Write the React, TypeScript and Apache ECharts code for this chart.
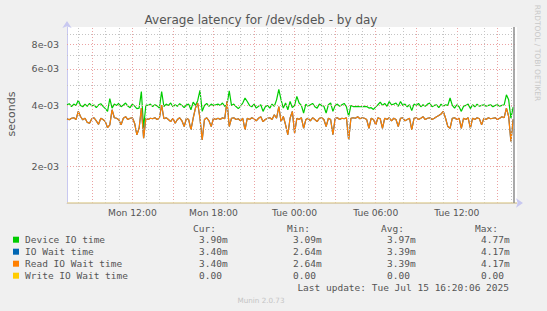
import React, { useEffect, useRef } from "react";
import * as echarts from "echarts";

// ---- data (values in milliseconds, 10-minute samples) ----
const startHour = 7 + 10 / 60; // Mon 07:10, hours since Mon 00:00
const stepHours = 10 / 60;

const deviceIoMs = [
  4.01, 4.06, 3.93, 4.04, 3.98, 4.22,
  3.98, 3.92, 4.04, 3.94, 4.07, 3.96, 4.0,
  3.88, 4.01, 4.06, 3.94, 3.84, 3.72,
  4.3, 3.86, 4.04,
  3.98, 4.08, 3.92, 4.0, 4.09, 3.95, 3.88, 4.04, 3.95,
  3.84, 3.86, 4.66, 3.09, 4.0,
  3.98, 4.04, 3.93, 4.01, 3.96, 3.86,
  4.66, 3.93,
  4.04, 3.98, 4.09, 3.92, 4.01, 3.94, 4.06, 3.98, 3.88, 4.01, 4.04,
  3.79, 4.13, 3.98, 4.2, 4.72, 3.72, 3.98,
  4.07, 3.94, 4.04, 3.98, 4.01,
  4.04, 3.98, 4.09, 3.94, 4.01,
  4.7,
  3.98, 4.04, 3.93, 3.84, 3.94,
  4.09, 4.33, 4.16,
  3.98, 3.92, 4.04, 3.86, 3.94, 4.01, 3.72, 3.92, 3.98, 3.86, 4.04, 3.94,
  4.24, 4.77, 4.24, 3.86,
  4.09, 3.79, 4.16, 3.88, 3.98,
  4.41, 4.09,
  3.98, 3.65, 4.04, 3.94, 4.01, 4.07, 3.92, 3.86, 4.04, 3.98, 3.94, 3.65,
  4.01, 4.09, 3.72, 3.98, 4.04, 3.94, 4.01, 4.07, 3.92,
  3.51, 3.98,
  3.93, 3.93, 3.94, 3.92, 3.93, 3.94, 3.93,
  3.86, 3.88, 3.8, 3.92, 4.01,
  4.13, 3.98, 4.07, 3.94, 4.16, 4.01, 4.04,
  4.09, 3.94, 4.16, 3.98, 4.04, 3.92, 4.01,
  3.75, 4.04,
  3.98, 4.07, 3.92, 4.01, 3.94, 4.04, 4.09, 3.92, 3.98, 4.01, 3.88, 4.04, 3.94, 4.01, 3.98,
  4.33, 3.98,
  3.86, 4.01, 3.92, 3.72, 3.94,
  3.98, 4.04, 3.84, 4.01, 3.92, 4.04, 3.94, 3.98, 4.01, 3.94, 3.98, 4.01, 3.92, 3.98, 4.01, 3.94, 3.98, 4.01,
  4.49, 4.24, 3.44, 3.9,
];

const readWaitMs = [
  3.42, 3.38, 3.44, 3.46, 3.39, 3.72, 3.51,
  3.38, 3.44, 3.28, 3.25, 3.42, 3.46, 3.34, 3.21,
  3.44, 3.39, 3.31,
  3.09, 3.19, 3.79, 3.46,
  3.44, 3.38, 3.19, 3.44, 3.5, 3.39, 3.44, 3.46,
  3.25, 2.85, 3.07, 3.86, 2.74, 3.44,
  3.39, 3.44, 3.42, 3.46, 3.39, 3.44,
  4.0, 3.42,
  3.46, 3.39, 3.31, 3.44, 3.25, 3.39, 3.46, 3.34, 3.13, 3.44, 3.39,
  3.01, 3.44, 3.86, 4.09, 3.44, 2.69, 3.39,
  3.46, 3.34, 3.13, 3.44, 3.39,
  3.44, 3.39, 3.46, 3.42,
  4.17, 3.13,
  3.44, 3.46, 3.39, 3.42, 3.34,
  3.44, 3.01, 3.44,
  3.39, 3.46, 3.42, 3.34, 3.44, 3.5, 3.31, 3.39, 3.44, 3.46, 3.39,
  3.58, 3.44, 3.93, 3.31, 3.51,
  3.19, 2.85, 3.44, 3.72, 2.9,
  3.44, 3.39,
  3.46, 3.07, 3.39, 3.44, 3.34, 3.46, 3.39, 3.31, 3.44, 3.46, 3.39, 3.13,
  3.44, 3.39, 2.85, 3.44, 3.46, 3.39, 3.44, 3.42, 3.46,
  2.69, 3.44,
  3.46, 3.44, 3.5, 3.42, 3.46, 3.44, 3.39,
  3.07, 3.44, 3.39, 3.19, 3.46,
  3.42, 3.07, 3.44, 3.39, 3.46, 3.34, 3.44,
  3.39, 3.13, 3.44, 3.46, 3.34, 3.39, 3.44,
  3.01, 3.44,
  3.46, 3.39, 3.44, 3.5, 3.39, 3.44, 3.46, 3.39, 3.44, 3.5, 3.55, 3.61, 3.72, 3.44, 3.13,
  3.07, 3.44,
  3.46, 3.39, 3.44, 3.07, 3.44,
  3.39, 3.46, 3.07, 3.44, 3.39, 3.46, 3.42, 3.19, 3.44, 3.39, 3.46, 3.42, 3.44, 3.46, 3.39, 3.44, 3.5, 3.46,
  3.86, 3.51, 2.64, 3.4,
];

// IO Wait time is identical to Read IO Wait time (same Cur/Min/Avg/Max)
const ioWaitMs = readWaitMs;

const nowHour = 40.23;

// ---- axes / ticks (y is plotted as log10 of seconds) ----
const yMin = 1.312e-3;
const yMax = 9.71e-3;
const yMajorTicks = [2e-3, 4e-3, 6e-3, 8e-3];
const yMajorLabels = ["2e-03", "4e-03", "6e-03", "8e-03"];
const yMinorTicks = [3e-3, 5e-3, 7e-3, 9e-3];
const xMin = startHour;
const xMax = 40.45;
const xLabelHours = [12, 18, 24, 30, 36];
const xLabels = ["Mon 12:00", "Mon 18:00", "Tue 00:00", "Tue 06:00", "Tue 12:00"];

// ---- legend table ----
const legendNames = ["Device IO time", "IO Wait time", "Read IO Wait time", "Write IO Wait time"];
const legendColors = ["#00cc00", "#0066b3", "#ff8000", "#ffcc00"];
const statHeaders = ["Cur:", "Min:", "Avg:", "Max:"];
const statRows = [
  ["3.90m", "3.09m", "3.97m", "4.77m"],
  ["3.40m", "2.64m", "3.39m", "4.17m"],
  ["3.40m", "2.64m", "3.39m", "4.17m"],
  ["0.00", "0.00", "0.00", "0.00"],
];

const lg = (v: number) => Math.log10(v);
const toPoints = (arr: number[]) => arr.map((v, i) => [startHour + i * stepHours, lg(v * 1e-3)]);

export default function App() {
  const ref = useRef<HTMLDivElement>(null);
  useEffect(() => {
    if (!ref.current) return;
    const chart = echarts.init(ref.current, undefined, { renderer: "svg" });

    const majorRed = "#eba3a3";
    const minorGrey = "#c4c4c4";
    const gridLines: any[] = [];
    for (let h = Math.ceil(xMin); h <= Math.floor(xMax); h++) {
      gridLines.push({
        xAxis: h,
        lineStyle: { color: h % 3 === 0 ? majorRed : minorGrey, type: [1, 2], width: 1 },
        label: { show: false },
      });
    }
    yMinorTicks.forEach((v) =>
      gridLines.push({ yAxis: lg(v), lineStyle: { color: minorGrey, type: [1, 2], width: 1 }, label: { show: false } })
    );
    yMajorTicks.forEach((v, i) =>
      gridLines.push({
        yAxis: lg(v),
        lineStyle: { color: majorRed, type: [1, 2], width: 1 },
        label: {
          show: true,
          position: "start",
          distance: 8,
          formatter: yMajorLabels[i],
          color: "#555",
          fontSize: 9.5,
          fontFamily: "DejaVu Sans",
        },
      })
    );
    gridLines.push({
      yAxis: lg(yMin),
      lineStyle: { color: "#e2d3a0", type: "solid", width: 1.5 },
      label: { show: false },
    });

    const mono = "DejaVu Sans Mono";
    const txtColor = "#555";
    const rowsY = [239.7, 251.7, 263.7, 275.7];
    const colX = [199, 293, 387, 481];
    const graphics: any[] = [
      {
        type: "text",
        x: 261,
        y: 20,
        style: {
          text: "Average latency for /dev/sdeb - by day",
          font: "12px 'DejaVu Sans'",
          fill: txtColor,
          align: "center",
          verticalAlign: "middle",
        },
      },
      {
        type: "text",
        x: 11,
        y: 114,
        rotation: Math.PI / 2,
        style: {
          text: "seconds",
          font: "11px 'DejaVu Sans'",
          fill: txtColor,
          align: "center",
          verticalAlign: "middle",
        },
      },
      {
        type: "text",
        x: 537,
        y: 53,
        rotation: -Math.PI / 2,
        style: {
          text: "RRDTOOL / TOBI OETIKER",
          font: "7.5px 'DejaVu Sans'",
          fill: "#c8c8c8",
          align: "center",
          verticalAlign: "middle",
        },
      },
      {
        type: "text",
        x: 261,
        y: 300,
        style: {
          text: "Munin 2.0.73",
          font: "7.2px 'DejaVu Sans'",
          fill: "#c4c4c4",
          align: "center",
          verticalAlign: "middle",
        },
      },
      {
        type: "text",
        x: 509,
        y: 287.3,
        style: {
          text: "Last update: Tue Jul 15 16:20:06 2025",
          font: `9.5px '${mono}'`,
          fill: txtColor,
          align: "right",
          verticalAlign: "middle",
        },
      },
    ];
    statHeaders.forEach((h, c) =>
      graphics.push({
        type: "text",
        x: colX[c] - 6,
        y: 228,
        style: { text: h, font: `9.5px '${mono}'`, fill: txtColor, align: "left", verticalAlign: "middle" },
      })
    );
    legendNames.forEach((name, r) => {
      graphics.push({
        type: "rect",
        shape: { x: 13, y: rowsY[r] - 3, width: 6, height: 6 },
        style: { fill: legendColors[r] },
      });
      graphics.push({
        type: "text",
        x: 25,
        y: rowsY[r],
        style: { text: name, font: `9.5px '${mono}'`, fill: txtColor, align: "left", verticalAlign: "middle" },
      });
      statRows[r].forEach((s, c) =>
        graphics.push({
          type: "text",
          x: colX[c],
          y: rowsY[r],
          style: { text: s, font: `9.5px '${mono}'`, fill: txtColor, align: "left", verticalAlign: "middle" },
        })
      );
    });

    const axisColor = "#c8c8f0";
    chart.setOption({
      animation: false,
      backgroundColor: "#f0f0f0",
      grid: {
        left: 67,
        right: 30,
        top: 27,
        bottom: 108,
        show: true,
        backgroundColor: "#ffffff",
        borderWidth: 0,
      },
      xAxis: {
        type: "value",
        min: xMin,
        max: xMax,
        splitLine: { show: false },
        axisTick: { show: false },
        axisLine: {
          show: true,
          lineStyle: { color: axisColor },
          symbol: ["none", "arrow"],
          symbolSize: [7, 7],
          symbolOffset: [0, 6],
        },
        axisLabel: {
          customValues: xLabelHours,
          formatter: (v: number) => {
            const i = xLabelHours.findIndex((h) => Math.abs(h - v) < 1e-6);
            return i >= 0 ? xLabels[i] : "";
          },
          color: "#555",
          fontSize: 9.2,
          fontFamily: "DejaVu Sans",
          margin: 5,
        },
      },
      yAxis: {
        type: "value",
        min: lg(yMin),
        max: lg(yMax),
        splitLine: { show: false },
        axisTick: { show: false },
        axisLabel: { show: false },
        axisLine: {
          show: true,
          lineStyle: { color: axisColor },
          symbol: ["none", "arrow"],
          symbolSize: [7, 7],
          symbolOffset: [0, 6],
        },
      },
      graphic: graphics,
      series: [
        {
          name: "grid",
          type: "line",
          data: [],
          z: 1,
          silent: true,
          markLine: { silent: true, symbol: ["none", "none"], animation: false, data: gridLines },
        },
        {
          name: "Device IO time",
          type: "line",
          data: toPoints(deviceIoMs),
          showSymbol: false,
          z: 3,
          lineStyle: { color: legendColors[0], width: 1.2 },
          itemStyle: { color: legendColors[0] },
        },
        {
          name: "IO Wait time",
          type: "line",
          data: toPoints(ioWaitMs),
          showSymbol: false,
          z: 3,
          lineStyle: { color: legendColors[1], width: 1.2 },
          itemStyle: { color: legendColors[1] },
        },
        {
          name: "Read IO Wait time",
          type: "line",
          data: toPoints(readWaitMs),
          showSymbol: false,
          z: 4,
          lineStyle: { color: legendColors[2], width: 1.2 },
          itemStyle: { color: legendColors[2] },
          markLine: {
            silent: true,
            symbol: ["none", "none"],
            label: { show: false },
            data: [{ xAxis: nowHour, lineStyle: { color: "#8c8c8c", type: "solid", width: 1.5 } }],
          },
        },
      ],
    });
    return () => chart.dispose();
  }, []);
  return (
    <div
      ref={ref}
      style={{ position: "fixed", left: 0, top: 0, width: 547, height: 311, background: "#f0f0f0" }}
    />
  );
}
